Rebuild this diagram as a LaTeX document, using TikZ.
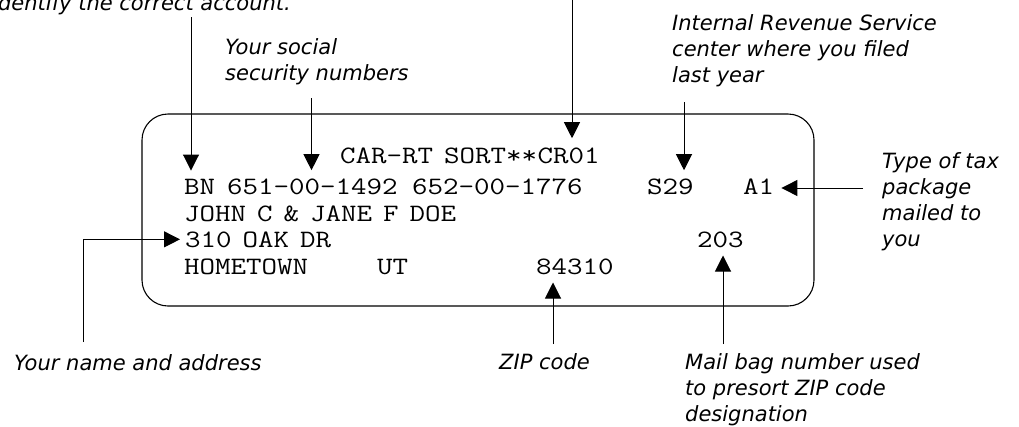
\documentclass[tikz,border=0pt]{standalone}
\usepackage{fontspec}
\setsansfont{DejaVu Sans}
\setmonofont[FakeStretch=1.204]{Latin Modern Mono}
\usetikzlibrary{arrows.meta}
\newcommand{\labelmono}{\ttfamily\fontsize{25}{30}\selectfont\spaceskip 11pt\relax}
\begin{document}
\begin{tikzpicture}[x=1pt,y=-1pt,
  mono/.style={anchor=base west,inner sep=0pt,font=\labelmono},
  lab/.style={anchor=base west,inner sep=0pt,align=left,font=\sffamily\itshape\fontsize{21}{26}\selectfont},
  arr/.style={line width=1pt,-{Triangle[length=16pt,width=16pt]},shorten >=8pt},
  ]
\useasboundingbox (0,0) rectangle (1019,426);
\clip (0,0) rectangle (1019,426);

% label box
\draw[line width=1.1pt,rounded corners=26pt] (142,114) rectangle (814,306);

% label contents
\node[mono] (car) at (340,163) {CAR-RT SORT**};
\node[mono,anchor=base west] (cr) at (car.base east) {CR01};
\node[mono] (bn) at (184,194) {BN};
\node[mono] (ssnA) at (227,194) {651-00-1492};
\node[mono] (ssnB) at (412,194) {652-00-1776};
\node[mono] (s29) at (647,194) {S29};
\node[mono] (a1) at (743,194) {A1};
\node[mono] (names) at (184,221) {JOHN C \& JANE F DOE};
\node[mono] (street) at (185,247) {310 OAK DR};
\node[mono] (bag) at (697,247) {203};
\node[mono] (town) at (184,274) {HOMETOWN};
\node[mono] (state) at (377,274) {UT};
\node[mono] (zip) at (536,274) {84310};

% explanatory labels (multi-line ones anchored at their last baseline)
\node[lab,anchor=base east] (acct) at (291,10) {dentify the correct account.};
\node[lab] (ssnlab) at (225,80) {Your social\\security numbers};
\node[lab] (irslab) at (672,82) {Internal Revenue Service\\center where you filed\\last year};
\node[lab] (typelab) at (882,246) {Type of tax\\package\\mailed to\\you};
\node[lab] (namelab) at (14,370) {Your name and address};
\node[lab] (ziplab) at (499,369) {ZIP code};
\node[lab] (baglab) at (685,421) {Mail bag number used\\to presort ZIP code\\designation};

% free ends of connectors
\coordinate (fbn) at (191,17);
\coordinate (fssn) at (311.5,98);
\coordinate (fcr) at (572,-5);
\coordinate (fs29) at (684,102);
\coordinate (fa1) at (863,188);
\coordinate (fst) at (83,342);
\coordinate (fzip) at (553,344);
\coordinate (fbag) at (723,344);

% connectors
\draw[arr] (fbn) -- (fbn |- bn.north);
\draw[arr] (fssn) -- (fssn |- ssnA.north);
\draw[arr,shorten >=9pt] (fcr) -- (fcr |- cr.north);
\draw[arr] (fs29) -- (fs29 |- s29.north);
\draw[arr,shorten >=7pt] (fa1) -- (fa1 -| a1.east);
\draw[arr,shorten >=5pt] (fst) |- (street.west);
\draw[arr] (fzip) -- (fzip |- zip.south);
\draw[arr] (fbag) -- (fbag |- bag.south);
\end{tikzpicture}
\end{document}
